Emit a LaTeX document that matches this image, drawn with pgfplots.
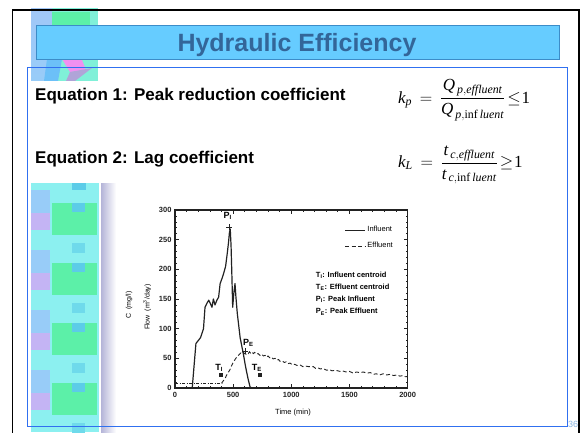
\documentclass[border=0pt]{standalone}
\usepackage{pgfplots}
\pgfplotsset{compat=1.18}
\usepackage{amsmath}
\usepackage{fontspec}
\setmainfont{Liberation Sans}
\newfontfamily\tms{Liberation Serif}
\definecolor{titlefill}{HTML}{66CCFF}
\definecolor{titleedge}{HTML}{3C8CC8}
\definecolor{titletext}{HTML}{336699}
\definecolor{boxblue}{HTML}{3070F0}
\definecolor{numblue}{HTML}{8AB4E0}
\definecolor{scyan}{HTML}{8CF0F0}
\definecolor{sgreen}{HTML}{5CF0A8}
\definecolor{slav}{HTML}{C4B4F4}
\definecolor{slblue}{HTML}{98CCF8}
\definecolor{sdcyan}{HTML}{5CCCE8}
\definecolor{spink}{HTML}{F090F0}
\definecolor{sgray}{HTML}{B0A4D8}
\definecolor{swedge}{HTML}{6CC0F8}
\definecolor{stop}{HTML}{80F0D8}
\definecolor{shadow}{HTML}{B4B4D8}
\definecolor{ink}{HTML}{222222}
\newcommand\ti[1]{\text{\tms\itshape #1}}
\newcommand\tu[1]{\text{\tms\upshape #1}}
\pgfplotstableread{
t v
0 0
148 0
165 40
180 75
200 80
220 85
245 100
258 136
275 143
290 148
305 142
318 136
330 150
344 140
360 148
375 153
388 176
405 185
418 193
435 205
450 228
460 245
468 262
475 268
482 240
488 198
496 136
506 160
516 176
524 153
536 125
548 105
560 85
575 70
590 55
603 40
616 27
630 14
645 2
660 0
2000 0
}\influent
\pgfplotstableread{
t v
0 8
400 8
}\effluentA
\pgfplotstableread{
t v
400 8
415 12
430 16
445 22
460 27
473 31
485 37
495 41
505 44
516 48
530 52
544 55
555 57
565 59
577 58
587 60
598 58
610 57
620 59
630 58
640 61
650 59
662 61
673 58
685 60
700 57
715 58
731 55
745 57
760 54
775 55
788 52
800 54
815 51
830 52
845 49
860 50
875 47
890 48
903 45
920 46
940 43
955 44
970 41
989 42
1010 39
1030 40
1050 38
1074 39
1100 36
1120 37
1150 36
1189 36
1210 33
1230 34
1250 32
1270 33
1304 30
1330 31
1350 29
1380 30
1418 28
1440 29
1470 27
1500 28
1533 25
1560 27
1590 26
1620 27
1648 25
1680 26
1705 23
1730 24
1760 22
1790 24
1819 22
1850 23
1880 21
1910 22
1934 20
1960 21
1980 19
2000 19
}\effluentB
\begin{document}
\begin{tikzpicture}
\useasboundingbox (0,0) rectangle (581pt,-432pt);
\begin{scope}[x=1pt,y=-1pt]
% decorative strip, upper part
\fill[stop] (31,8) rectangle (98,81);
\shade[top color=slblue!80!slav, bottom color=slblue] (31,8) rectangle (52,81);
\fill[sgreen] (52,12) rectangle (90,25);
\fill[swedge] (47,59) -- (62,59) -- (58,81) -- (44,81) -- cycle;
\fill[spink] (62,59) -- (82,60) -- (86,70) -- (70,72) -- cycle;
\fill[sgray] (70,72) -- (92,68) -- (75,81) -- (66,81) -- cycle;
% decorative strip, lower part
\fill[scyan] (31,183) rectangle (99,432);
\fill[sdcyan] (72,180) rectangle (86,190);
\foreach \y in {203,263,323,383} {
  \fill[slblue] (31,\y-13) rectangle (50,\y+10);
  \fill[slav] (31,\y+10) rectangle (50,\y+27);
  \fill[sgreen] (52,\y) rectangle (97,\y+32);
  \fill[sdcyan] (72,\y) rectangle (85,\y+9);
  \fill[sdcyan!60!scyan] (72,\y+40) rectangle (85,\y+50);
}
\fill[white] (99,183) rectangle (101,432);
\shade[left color=shadow, right color=white] (101,183) rectangle (116,432);
% outer slide border
\draw[black, line width=1.8pt] (12.5,433) -- (12.5,10) -- (579,10) -- (579,433);
% white text area
\fill[white] (28,81) rectangle (566,183);
% content outline
\draw[boxblue, line width=0.8pt] (27,67) rectangle (567,426);
% title box
\draw[titleedge, fill=titlefill, line width=0.8pt] (36,25) rectangle (559,59);
\node[anchor=base, text=titletext, font=\fontsize{25}{28}\selectfont\bfseries, inner sep=0pt] at (297,51) {Hydraulic Efficiency};
% equation captions
\node[anchor=base west, font=\fontsize{17}{20}\selectfont\bfseries, inner sep=0pt] at (35,100) {Equation 1: Peak reduction coefficient};
\node[anchor=base west, font=\fontsize{17}{20}\selectfont\bfseries, inner sep=0pt] at (35,163) {Equation 2: Lag coefficient};
% formulas
\node[anchor=west, inner sep=0pt, font=\tms\fontsize{17}{20}\selectfont] at (398,100)
 {$\ti{k}_{\ti{p}} \,=\, \dfrac{\ti{Q}_{\,\ti{p},\ti{effluent}}}{\ti{Q}_{\,\ti{p},\tu{inf}\,\ti{luent}}}\mskip2mu{\leq}\mskip1mu\tu{1}$};
\node[anchor=west, inner sep=0pt, font=\tms\fontsize{17}{20}\selectfont] at (398,165)
 {$\ti{k}_{\ti{L}} \,=\, \dfrac{\ti{t}_{\,\ti{c},\ti{effluent}}}{\ti{t}_{\,\ti{c},\tu{inf}\,\ti{luent}}}\mskip2mu{\geq}\mskip1mu\tu{1}$};
% slide number
\node[anchor=base west, text=numblue, font=\fontsize{9}{10}\selectfont, inner sep=0pt] at (568,427) {36};
% axis labels
\node[rotate=90, font=\fontsize{7}{8}\selectfont] at (129,305) {C\ \ (mg/l)};
\node[rotate=90, font=\fontsize{7}{8}\selectfont] at (147,307) {Flow\ \ (m\textsuperscript{3}/day)};
\node[font=\fontsize{7.5}{8}\selectfont] at (293,413) {Time (min)};
\end{scope}
\begin{axis}[
  at={(175pt,-388pt)}, anchor=south west,
  width=232.6pt, height=178pt, scale only axis,
  xmin=0, xmax=2000, ymin=0, ymax=300,
  xtick={0,500,1000,1500,2000}, ytick={0,50,100,150,200,250,300},
  minor x tick num=4, minor y tick num=4,
  tick align=inside, major tick length=4pt, minor tick length=2pt,
  axis line style={ink, line width=1.1pt},
  every tick/.style={ink, line width=0.7pt},
  tick label style={font=\fontsize{7.5}{8}\selectfont\bfseries, text=ink},
  /pgf/number format/assume math mode=true,
  /pgf/number format/1000 sep={},
  xticklabel style={yshift=-1pt},
  clip=false,
  legend style={draw=none, fill=none, font=\fontsize{7.5}{8}\selectfont,
    at={(0.95,0.925)}, anchor=north east, row sep=5pt, inner sep=1pt},
  legend cell align=left,
  legend image code/.code={\draw[#1, line width=0.7pt] (0pt,0pt) -- (20pt,0pt);},
]
\addplot[ink, line width=1.2pt, line join=round] table[x=t,y=v] {\influent};
\addlegendentry{Influent}
\addplot[ink, line width=0.9pt, dash pattern=on 4pt off 2.5pt] table[x=t,y=v] {\effluentB};
\addlegendentry{Effluent}
\addplot[ink, line width=0.6pt, dash pattern=on 3pt off 1.5pt on 1pt off 1.5pt, forget plot] table[x=t,y=v] {\effluentA};
% peak and centroid marks
\addplot[only marks, mark=+, mark size=3pt, ink, line width=0.9pt, forget plot] coordinates {(467,271) (602,62)};
\addplot[only marks, mark=square*, mark size=1.4pt, ink, forget plot] coordinates {(396,22) (725,22)};
\node[font=\fontsize{9}{9}\selectfont\bfseries] at (axis cs:453,290) {P\textsubscript{I}};
\node[font=\fontsize{9}{9}\selectfont\bfseries] at (axis cs:630,76) {P\textsubscript{E}};
\node[font=\fontsize{9}{9}\selectfont\bfseries] at (axis cs:380,34) {T\textsubscript{I}};
\node[font=\fontsize{9}{9}\selectfont\bfseries] at (axis cs:705,34) {T\textsubscript{E}};
\node[anchor=north west, align=left, inner sep=0pt, font=\fontsize{7.5}{12.3}\selectfont\bfseries] at (rel axis cs:0.605,0.655)
 {T\textsubscript{I}: Influent centroid\\T\textsubscript{E}: Effluent centroid\\P\textsubscript{I}: Peak Influent\\P\textsubscript{E}: Peak Effluent};
\end{axis}
\end{tikzpicture}
\end{document}
